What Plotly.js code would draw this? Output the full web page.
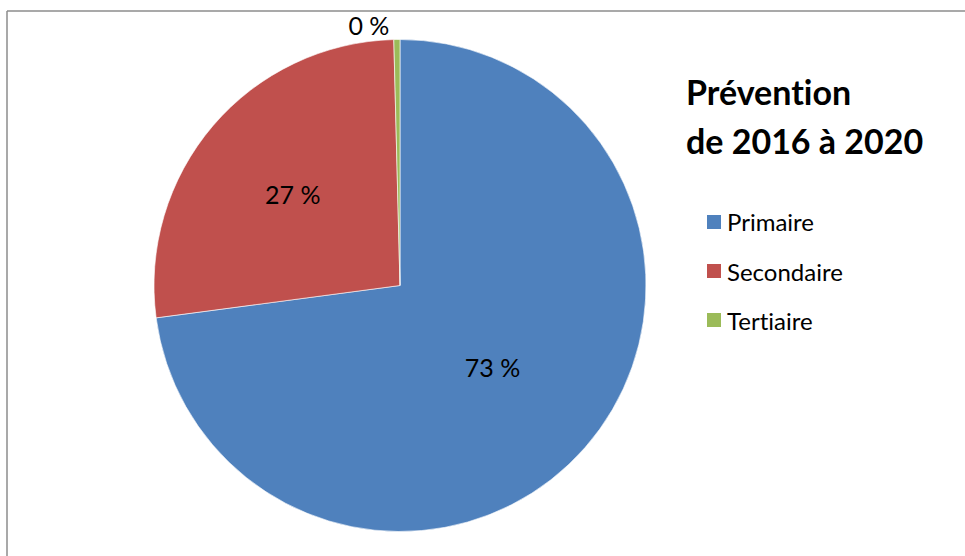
<!DOCTYPE html>
<html>
<head>
<meta charset="utf-8">
<script src="https://cdn.plot.ly/plotly-3.0.1.min.js"></script>
<style>html,body{margin:0;padding:0;background:#fff;}#chart{width:965px;height:556px;}
svg text{font-variant-ligatures:none;font-feature-settings:"liga" 0;}</style>
</head>
<body>
<div id="chart"></div>
<script>
// Data
const categories = ["Primaire", "Secondaire", "Tertiaire"];
const values = [72.9, 26.7, 0.4];
const colors = ["#4F81BD", "#C0504D", "#9BBB59"];
const titleLines = ["Prévention", "de 2016 à 2020"];

const FONT = "Lato, 'Open Sans', sans-serif";
const W = 965, H = 556;
const total = values.reduce((a, b) => a + b, 0);
const texts = values.map(v => Math.round(v / total * 100) + " %");

const cx = 400, cy = 285.5, R = 246;

const trace = {
  type: "pie",
  labels: categories,
  values: values,
  text: texts,
  textinfo: "text",
  textposition: ["inside", "inside", "outside"],
  insidetextorientation: "horizontal",
  sort: false,
  direction: "clockwise",
  rotation: 0,
  marker: { colors: colors, line: { color: "#ffffff", width: 0.6 } },
  textfont: { family: FONT, size: 25, color: "#000000" },
  outsidetextfont: { family: FONT, size: 25, color: "#000000" },
  insidetextfont: { family: FONT, size: 25, color: "#000000" },
  domain: { x: [(cx - R) / W, (cx + R) / W], y: [1 - (cy + R) / H, 1 - (cy - R) / H] },
  showlegend: false,
  hoverinfo: "label+percent"
};

const annotations = [];
const shapes = [];
// Title lines
titleLines.forEach((t, i) => {
  annotations.push({
    xref: "paper", yref: "paper", x: 684 / W, y: 1 - (92 + i * 48) / H,
    xanchor: "left", yanchor: "middle", showarrow: false,
    text: "<b>" + t + "</b>", font: { family: FONT, size: 34, color: "#000000" }
  });
});
// Legend
categories.forEach((c, i) => {
  const yc = 222 + i * 49;
  shapes.push({
    type: "rect", xref: "paper", yref: "paper",
    x0: 707 / W, x1: 721 / W, y0: 1 - (yc + 7) / H, y1: 1 - (yc - 7) / H,
    fillcolor: colors[i], line: { width: 0 }
  });
  annotations.push({
    xref: "paper", yref: "paper", x: 725 / W, y: 1 - yc / H,
    xanchor: "left", yanchor: "middle", showarrow: false,
    text: c, font: { family: FONT, size: 24, color: "#000000" }
  });
});
// Chart border (top and left visible)
shapes.push({ type: "line", xref: "paper", yref: "paper", x0: 7 / W, x1: 1.01, y0: 1 - 11 / H, y1: 1 - 11 / H, line: { color: "#8c8c8c", width: 1.5 } });
shapes.push({ type: "line", xref: "paper", yref: "paper", x0: 7 / W, x1: 7 / W, y0: -0.01, y1: 1 - 11 / H, line: { color: "#8c8c8c", width: 1.5 } });

const layout = {
  width: W, height: H,
  margin: { l: 0, r: 0, t: 0, b: 0 },
  paper_bgcolor: "#ffffff",
  showlegend: false,
  annotations: annotations,
  shapes: shapes,
  font: { family: FONT }
};

Plotly.newPlot("chart", [trace], layout, { displayModeBar: false, staticPlot: true });
</script>
</body>
</html>
